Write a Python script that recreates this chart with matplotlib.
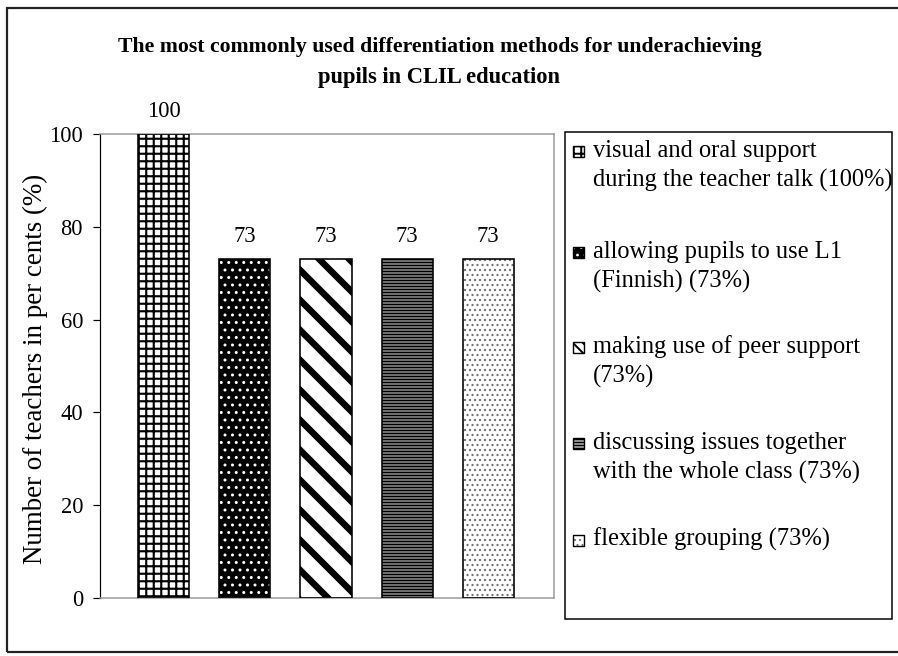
import matplotlib
matplotlib.use("Agg")
import matplotlib.pyplot as plt
from matplotlib.patches import Rectangle, Patch

# ---- data ----
title = "The most commonly used differentiation methods for underachieving\npupils in CLIL education"
ylabel = "Number of teachers in per cents (%)"
series = [
    "visual and oral support\nduring the teacher talk (100%)",
    "allowing pupils to use L1\n(Finnish) (73%)",
    "making use of peer support\n(73%)",
    "discussing issues together\nwith the whole class (73%)",
    "flexible grouping (73%)",
]
values = [100, 73, 73, 73, 73]
yticks = [0, 20, 40, 60, 80, 100]

# ---- styles ----
DPI = 90
W, H = 898, 656
FONT = "Liberation Serif"
plt.rcParams["font.family"] = [FONT, "DejaVu Serif"]

styles = [
    dict(face="white", hatch="++", hcolor="black", hlw=1.7),
    dict(face="black", hatch="..", hcolor="white", hlw=1.2),
    dict(face="white", hatch="\\", hcolor="black", hlw=5.2),
    dict(face="#a0a0a0", hatch="-----", hcolor="black", hlw=1.3),
    dict(face="white", hatch="...", hcolor="#707070", hlw=1.0),
]
key_styles = [
    dict(hatch="++", hlw=1.6),
    dict(hatch="..", hlw=1.0),
    dict(hatch="\\\\\\", hlw=1.6),
    dict(hatch="-----", hlw=1.0),
    dict(hatch="...", hlw=0.9),
]

has_hlw = hasattr(Patch, "set_hatch_linewidth")


def px(v):  # pixels -> points
    return v * 72.0 / DPI


fig = plt.figure(figsize=(W / DPI, H / DPI), dpi=DPI)
fig.patch.set_facecolor("white")

# plot area in pixels: left 100, right 554, top 134, bottom 598
ax = fig.add_axes([100 / W, 1 - 598 / H, 454 / W, 464 / H])

bar_w = 0.63
for i, (v, st) in enumerate(zip(values, styles)):
    with plt.rc_context({"hatch.linewidth": st["hlw"]}):
        hb = ax.bar(i, v, width=bar_w, color=st["face"], edgecolor=st["hcolor"],
                    hatch=st["hatch"], linewidth=0, zorder=2)
        if has_hlw:
            for p in hb:
                p.set_hatch_linewidth(st["hlw"])
    cont = ax.bar(i, v, width=bar_w, fill=False, edgecolor="black",
                  linewidth=px(1.6), zorder=3)
    ax.bar_label(cont, labels=[f"{v:d}"], padding=px(12), fontsize=px(22.5))

ax.set_xlim(-0.784, 4.81)
ax.set_ylim(0, 100)
ax.set_yticks(yticks)
ax.set_yticklabels([str(t) for t in yticks], fontsize=px(22.5))
ax.tick_params(axis="y", direction="out", length=px(7), width=px(1.2), pad=px(10),
               colors="black")
ax.set_xticks([])
for side in ["top", "right", "bottom"]:
    ax.spines[side].set_color("#999999")
    ax.spines[side].set_linewidth(px(1.5))
ax.spines["left"].set_color("black")
ax.spines["left"].set_linewidth(px(1.2))

# y label
fig.text(35 / W, 1 - 369 / H, ylabel, rotation=90, ha="center", va="center",
         fontsize=px(27))

# title
lines = title.split("\n")
fig.text(440 / W, 1 - 47 / H, lines[0], ha="center", va="center",
         fontsize=px(21.7), fontweight="bold")
fig.text(439 / W, 1 - 77 / H, lines[1], ha="center", va="center",
         fontsize=px(22.5), fontweight="bold")

# legend box
fig.patches.append(Rectangle((565 / W, 1 - 619 / H), (892 - 565) / W, (619 - 132) / H,
                             transform=fig.transFigure, fill=False,
                             edgecolor="black", linewidth=px(1.5)))
entry_y = [151, 252, 347, 443, 540]
line_gap = 30
key = 11
for lab, ey, st, ks in zip(series, entry_y, styles, key_styles):
    with plt.rc_context({"hatch.linewidth": ks["hlw"]}):
        r = Rectangle((573 / W, 1 - (ey + key / 2) / H), key / W, key / H,
                      transform=fig.transFigure, facecolor=st["face"],
                      edgecolor=st["hcolor"], hatch=ks["hatch"], linewidth=0)
        if has_hlw:
            r.set_hatch_linewidth(ks["hlw"])
    fig.patches.append(r)
    fig.patches.append(Rectangle((573 / W, 1 - (ey + key / 2) / H), key / W, key / H,
                                 transform=fig.transFigure, fill=False,
                                 edgecolor="black", linewidth=px(1.4)))
    for k, ln in enumerate(lab.split("\n")):
        fig.text(593 / W, 1 - (ey + 6 + k * line_gap) / H, ln, ha="left",
                 va="baseline", fontsize=px(24.5))

# outer frame
fig.patches.append(Rectangle((7 / W, 1 - 652 / H), 1.02, (652 - 8) / H,
                             transform=fig.transFigure, fill=False,
                             edgecolor="#222222", linewidth=px(2.2), clip_on=False))

fig.savefig("out.png", dpi=DPI, facecolor="white")
